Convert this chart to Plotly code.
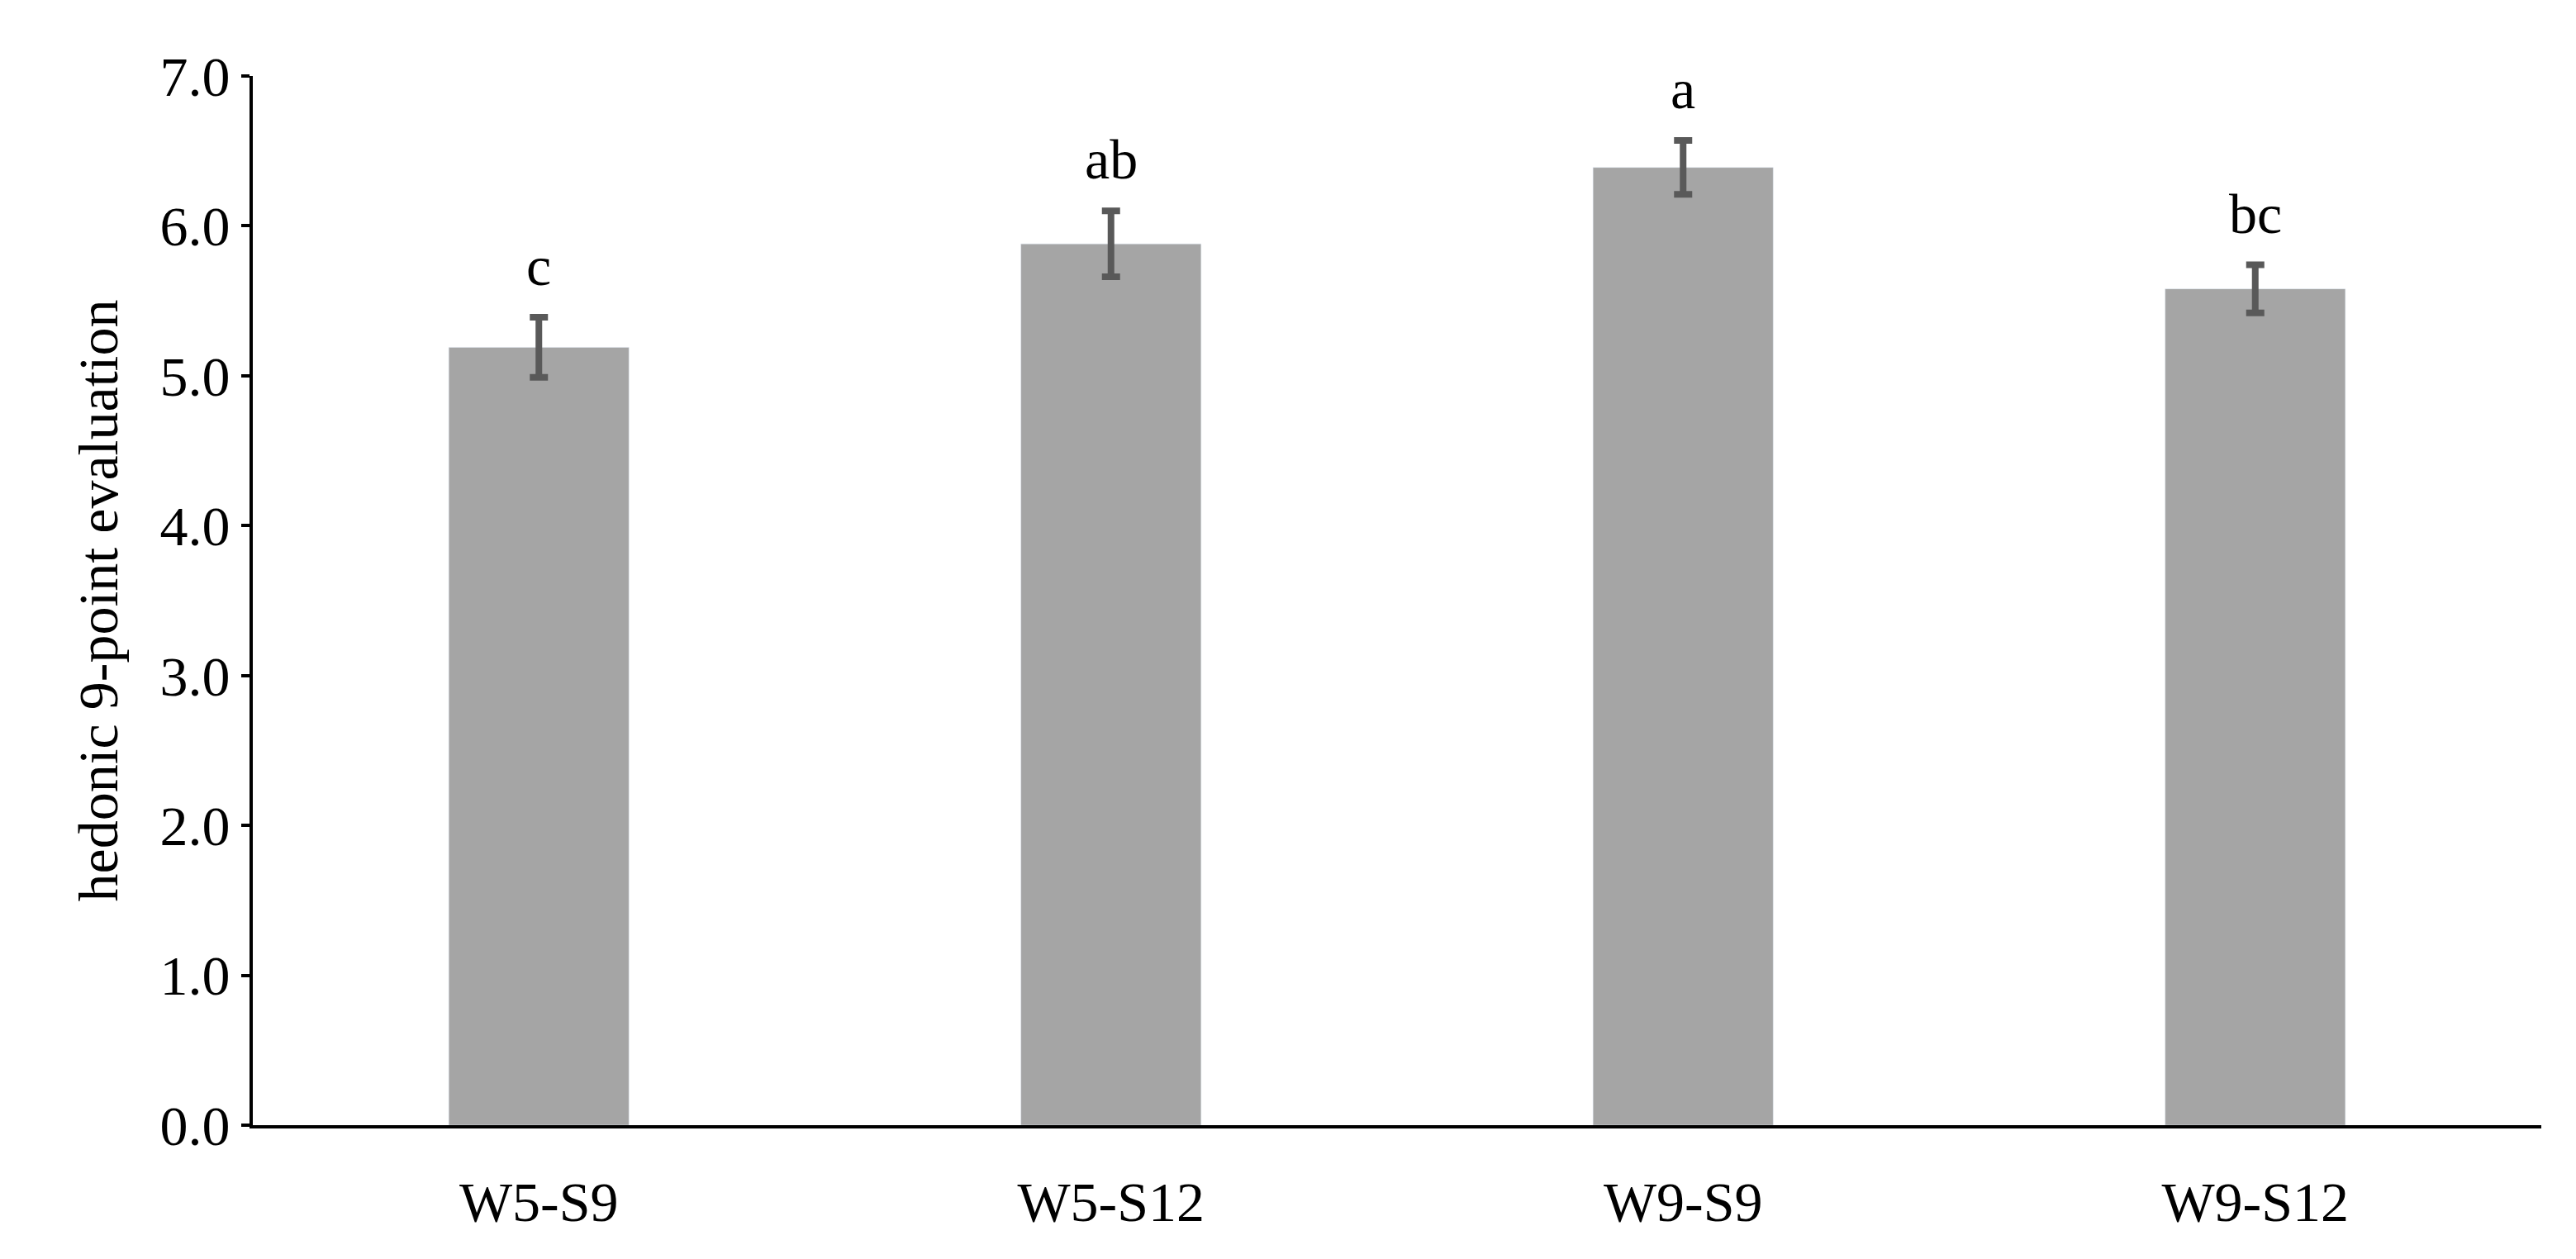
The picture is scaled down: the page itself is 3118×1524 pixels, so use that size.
import plotly.graph_objects as go

categories = ["W5-S9", "W5-S12", "W9-S9", "W9-S12"]
means = [5.19, 5.88, 6.39, 5.58]
errors = [0.20, 0.22, 0.18, 0.16]
letters = ["c", "ab", "a", "bc"]
y_ticks = [0, 1, 2, 3, 4, 5, 6, 7]
y_tick_labels = ["0.0", "1.0", "2.0", "3.0", "4.0", "5.0", "6.0", "7.0"]

FONT = "Liberation Serif"
FS = 68
fig = go.Figure()
fig.add_trace(go.Bar(
    x=categories, y=means, width=0.315, marker_color="#A5A5A5",
    error_y=dict(type="data", array=errors, color="#595959", thickness=8, width=11),
))
for c, m, e, l in zip(categories, means, errors, letters):
    fig.add_annotation(x=c, y=m + e, text=l, showarrow=False, yanchor="bottom",
                       yshift=22, font=dict(family=FONT, size=FS, color="black"))

fig.update_layout(
    width=3118, height=1524, plot_bgcolor="white", paper_bgcolor="white",
    margin=dict(l=298, r=50, t=84, b=170), showlegend=False,
    font=dict(family=FONT, size=FS, color="black"),
)
fig.update_xaxes(showline=True, linecolor="black", linewidth=4, ticks="",
                 tickfont=dict(family=FONT, size=FS), ticklabelstandoff=30)
fig.update_yaxes(range=[0, 7], tickvals=y_ticks, ticktext=y_tick_labels,
                 showline=True, linecolor="black", linewidth=4, showgrid=False,
                 ticks="outside", ticklen=10, tickwidth=4, tickcolor="black",
                 zeroline=False, tickfont=dict(family=FONT, size=FS),
                 title=dict(text="hedonic 9-point evaluation", font=dict(family=FONT, size=FS), standoff=30))
fig.write_html("out.html")
